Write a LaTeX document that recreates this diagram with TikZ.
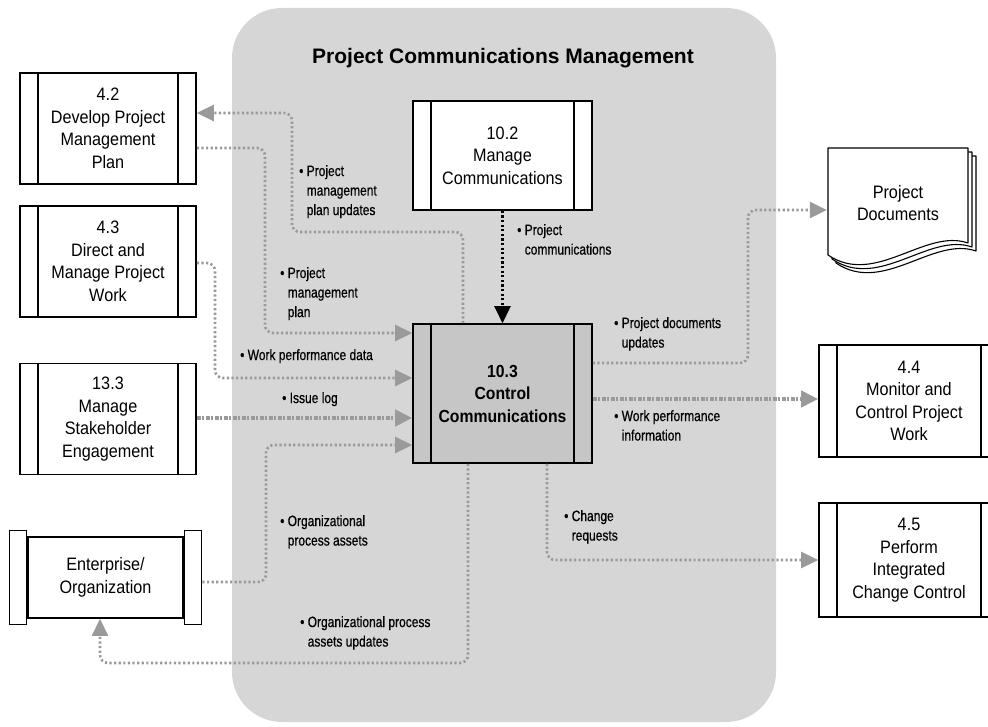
\documentclass[tikz,border=0pt]{standalone}
\usepackage{fontspec}
\setmainfont{Liberation Sans}
\newfontfamily\boxfont[FakeStretch=0.9]{Liberation Sans}
\newfontfamily\lblfont[FakeStretch=0.8,FakeBold=0.6]{Liberation Sans}
\usetikzlibrary{arrows.meta}

\definecolor{panel}{HTML}{D6D6D6}
\definecolor{flow}{HTML}{9A9A9A}
\definecolor{focus}{HTML}{C6C6C6}

\newcommand\lbul{\textbullet\ }
\newcommand\lind{\phantom{\textbullet\ }}

\tikzset{
  proc/.style={draw, line width=1.6pt, fill=white, inner sep=0pt, align=center,
    minimum width=176pt, minimum height=111pt,
    font={\boxfont\fontsize{18pt}{22.5pt}\selectfont},
    path picture={
      \draw[line width=1.6pt]
        ([xshift=18pt]path picture bounding box.north west) -- ([xshift=18pt]path picture bounding box.south west)
        ([xshift=-18pt]path picture bounding box.north east) -- ([xshift=-18pt]path picture bounding box.south east);
    }},
  endcap/.style={draw, line width=1.6pt, fill=white, inner sep=0pt, minimum width=17pt, minimum height=94pt},
  lbl/.style={anchor=north west, align=left, inner sep=0pt,
    font={\lblfont\fontsize{15pt}{19.5pt}\selectfont}},
  flowline/.style={draw=flow, line width=2.6pt, dash pattern=on 2.2pt off 2.4pt,
    rounded corners=8pt, -{Triangle[length=17pt,width=16pt]}},
  heavyflow/.style={flowline, line width=4pt, dash pattern=on 4pt off 1.5pt on 2pt off 1.5pt},
  blackflow/.style={flowline, draw=black, line width=2.4pt},
  page/.style={draw, line width=1.1pt, fill=white, line join=round}
}

\begin{document}
\begin{tikzpicture}[x=1pt,y=-1pt]
\useasboundingbox (0,0) rectangle (988,727);

% knowledge area panel
\fill[panel, rounded corners=50pt] (232,8) rectangle (776,722);
\node[font={\bfseries\fontsize{21pt}{24pt}\selectfont}] (title) at (503,58) {Project Communications Management};

% processes
\node[proc] (d42) at (108,128.5) {4.2\\Develop Project\\Management\\Plan};
\node[proc] (d43) at (108,261.5) {4.3\\Direct and\\Manage Project\\Work};
\node[proc] (ms) at (108,419) {13.3\\Manage\\Stakeholder\\Engagement};
\node[proc, minimum width=179pt, minimum height=109pt] (mc) at (502.5,155.5) {10.2\\Manage\\Communications};
\node[proc, minimum width=179pt, minimum height=139pt, fill=focus,
      font={\boxfont\bfseries\fontsize{17.5pt}{22.5pt}\selectfont}] (cc) at (502.5,393.5) {10.3\\Control\\Communications};
\node[proc, minimum width=180pt, minimum height=112pt] (d44) at (909,401) {4.4\\Monitor and\\Control Project\\Work};
\node[proc, minimum width=180pt, minimum height=114pt] (d45) at (909,560) {4.5\\Perform\\Integrated\\Change Control};

% enterprise / organization
\node[draw, line width=1.6pt, fill=white, inner sep=0pt, align=center,
      minimum width=155pt, minimum height=81pt,
      font={\boxfont\fontsize{18pt}{22.5pt}\selectfont}] (ent) at (105.5,577.5) {Enterprise/\\Organization};
\node[endcap, anchor=east] (entL) at (ent.west) {};
\node[endcap, anchor=west] (entR) at (ent.east) {};

% project documents stack
\foreach \d in {8,4,0}{
  \begin{scope}[shift={(\d,\d)}]
    \path[page] (828,148) -- (968,148) -- (968,243)
      .. controls (925,228) and (875,287) .. (828,255) -- cycle;
  \end{scope}
}
\node[align=center, inner sep=0pt, minimum width=142pt, minimum height=110pt,
      font={\boxfont\fontsize{18pt}{22.5pt}\selectfont}] (pd) at (898,203) {Project\\Documents};

% data flows
\draw[flowline] (cc.north -| 463,0) -- (463,232) -- (292,232) -- (292,113) -- (d42.east |- 0,113);
\draw[flowline] (d42.east |- 0,148) -- (265,148) -- (265,333) -- (cc.west |- 0,333);
\draw[flowline] (d43.east |- 0,263) -- (215,263) -- (215,378) -- (cc.west |- 0,378);
\draw[heavyflow] (ms.east |- 0,418) -- (cc.west |- 0,418);
\draw[flowline] (entR.east |- 0,582) -- (266,582) -- (266,445) -- (cc.west |- 0,445);
\draw[flowline] (cc.south -| 468,0) -- (468,663) -- (100,663) -- (ent.south -| 100,0);
\draw[blackflow] (mc.south) -- (cc.north);
\draw[flowline] (cc.east |- 0,363) -- (748,363) -- (748,210) -- (pd.west |- 0,210);
\draw[heavyflow] (cc.east |- 0,399) -- (d44.west |- 0,399);
\draw[flowline] (cc.south -| 547,0) -- (547,560) -- (d45.west |- 0,560);

% flow labels
\node[lbl] (l1) at (299,165) {\lbul Project\\\lind management\\\lind plan updates};
\node[lbl] (l2) at (280,267) {\lbul Project\\\lind management\\\lind plan};
\node[lbl] (l3) at (240,349) {\lbul Work performance data};
\node[lbl] (l4) at (282,392) {\lbul Issue log};
\node[lbl] (l5) at (280,515) {\lbul Organizational\\\lind process assets};
\node[lbl] (l6) at (300,616) {\lbul Organizational process\\\lind assets updates};
\node[lbl] (l7) at (517,224) {\lbul Project\\\lind communications};
\node[lbl] (l8) at (614,317) {\lbul Project documents\\\lind updates};
\node[lbl] (l9) at (614,410) {\lbul Work performance\\\lind information};
\node[lbl] (l10) at (564,510) {\lbul Change\\\lind requests};
\end{tikzpicture}
\end{document}
